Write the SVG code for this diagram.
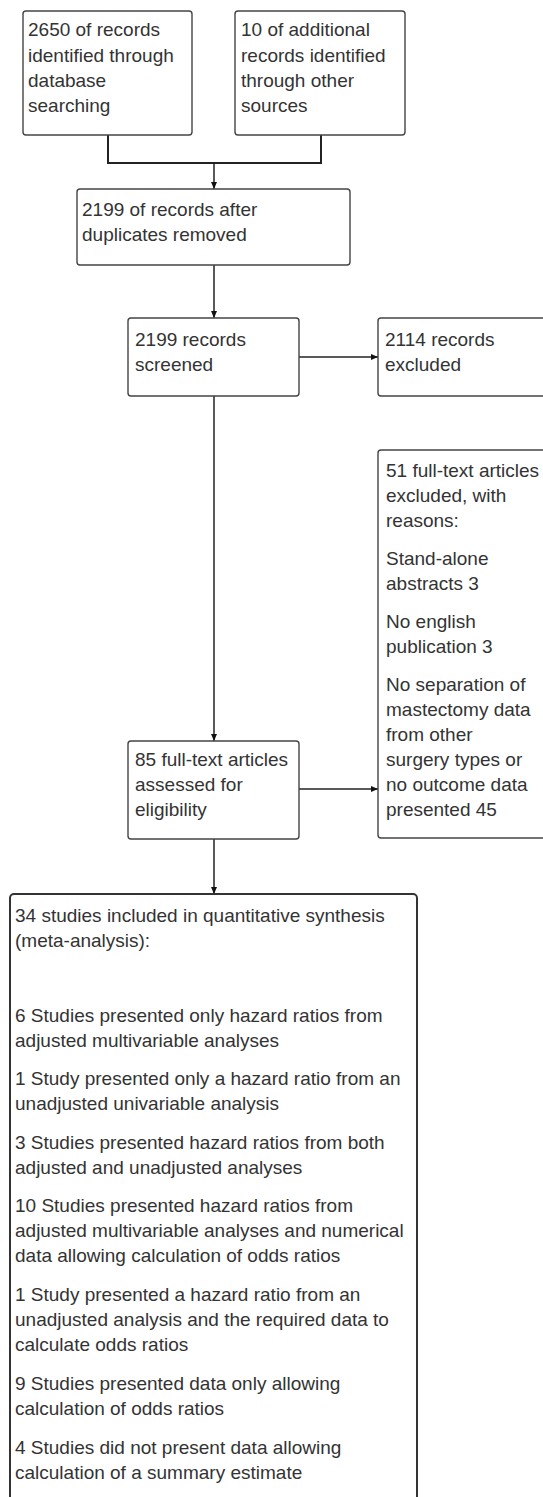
<svg xmlns="http://www.w3.org/2000/svg" width="543" height="1497" viewBox="0 0 543 1497">
<style>
.box{fill:#fff;stroke:#444;stroke-width:1.4}
.big{fill:#fff;stroke:#333;stroke-width:2}
.t{font-family:"Liberation Sans",Arial,sans-serif;font-size:19px;fill:#333}
.ln{fill:none;stroke:#222;stroke-width:1.5}
.thick{fill:none;stroke:#222;stroke-width:2}
</style>
<defs>
<marker id="ah" markerUnits="userSpaceOnUse" markerWidth="8" markerHeight="7" refX="7" refY="3" orient="auto">
<path d="M0,0 L7,3 L0,6 z" fill="#111"/>
</marker>
</defs>
<rect width="543" height="1497" fill="#fff"/>
<g id="connectors">
<path class="thick" d="M108,135 V163 H321 V135"/>
<path class="ln" d="M214,163 V189" marker-end="url(#ah)"/>
<path class="ln" d="M214,265 V318" marker-end="url(#ah)"/>
<path class="ln" d="M299,357 H378" marker-end="url(#ah)"/>
<path class="ln" d="M214,396 V741" marker-end="url(#ah)"/>
<path class="ln" d="M299,789 H378" marker-end="url(#ah)"/>
<path class="ln" d="M214,839 V894" marker-end="url(#ah)"/>
</g>
<g id="n1">
<rect class="box" x="23" y="11" width="169" height="124" rx="3"/>
<text class="t" x="28"><tspan x="28" y="36">2650 of records</tspan><tspan x="28" y="62">identified through</tspan><tspan x="28" y="87">database</tspan><tspan x="28" y="112">searching</tspan></text>
</g>
<g id="n2">
<rect class="box" x="235" y="11" width="170" height="124" rx="3"/>
<text class="t"><tspan x="241" y="36">10 of additional</tspan><tspan x="241" y="62">records identified</tspan><tspan x="241" y="87">through other</tspan><tspan x="241" y="112">sources</tspan></text>
</g>
<g id="n3">
<rect class="box" x="77" y="189" width="273" height="76" rx="3"/>
<text class="t"><tspan x="82" y="216">2199 of records after</tspan><tspan x="82" y="241">duplicates removed</tspan></text>
</g>
<g id="n4">
<rect class="box" x="128" y="318" width="171" height="78" rx="3"/>
<text class="t"><tspan x="135" y="346">2199 records</tspan><tspan x="135" y="371">screened</tspan></text>
</g>
<g id="n5">
<rect class="box" x="378" y="318" width="180" height="78" rx="3"/>
<text class="t"><tspan x="385" y="346">2114 records</tspan><tspan x="385" y="371">excluded</tspan></text>
</g>
<g id="n6">
<rect class="box" x="378" y="450" width="180" height="388" rx="3"/>
<text class="t"><tspan x="386" y="477">51 full-text articles</tspan><tspan x="386" y="502">excluded, with</tspan><tspan x="386" y="527">reasons:</tspan><tspan x="386" y="565">Stand-alone</tspan><tspan x="386" y="590">abstracts 3</tspan><tspan x="386" y="628">No english</tspan><tspan x="386" y="653">publication 3</tspan><tspan x="386" y="691">No separation of</tspan><tspan x="386" y="716">mastectomy data</tspan><tspan x="386" y="741">from other</tspan><tspan x="386" y="766">surgery types or</tspan><tspan x="386" y="791">no outcome data</tspan><tspan x="386" y="816">presented 45</tspan></text>
</g>
<g id="n7">
<rect class="box" x="128" y="741" width="171" height="98" rx="3"/>
<text class="t"><tspan x="135" y="766">85 full-text articles</tspan><tspan x="135" y="791">assessed for</tspan><tspan x="135" y="816">eligibility</tspan></text>
</g>
<g id="n8">
<rect class="big" x="10" y="894" width="407" height="630" rx="4"/>
<text class="t"><tspan x="15" y="922">34 studies included in quantitative synthesis</tspan><tspan x="15" y="947">(meta-analysis):</tspan><tspan x="15" y="1022">6 Studies presented only hazard ratios from</tspan><tspan x="15" y="1047">adjusted multivariable analyses</tspan><tspan x="15" y="1085">1 Study presented only a hazard ratio from an</tspan><tspan x="15" y="1110">unadjusted univariable analysis</tspan><tspan x="15" y="1149">3 Studies presented hazard ratios from both</tspan><tspan x="15" y="1174">adjusted and unadjusted analyses</tspan><tspan x="15" y="1212">10 Studies presented hazard ratios from</tspan><tspan x="15" y="1237">adjusted multivariable analyses and numerical</tspan><tspan x="15" y="1262">data allowing calculation of odds ratios</tspan><tspan x="15" y="1301">1 Study presented a hazard ratio from an</tspan><tspan x="15" y="1326">unadjusted analysis and the required data to</tspan><tspan x="15" y="1351">calculate odds ratios</tspan><tspan x="15" y="1390">9 Studies presented data only allowing</tspan><tspan x="15" y="1415">calculation of odds ratios</tspan><tspan x="15" y="1454">4 Studies did not present data allowing</tspan><tspan x="15" y="1479">calculation of a summary estimate</tspan></text>
</g>
</svg>
